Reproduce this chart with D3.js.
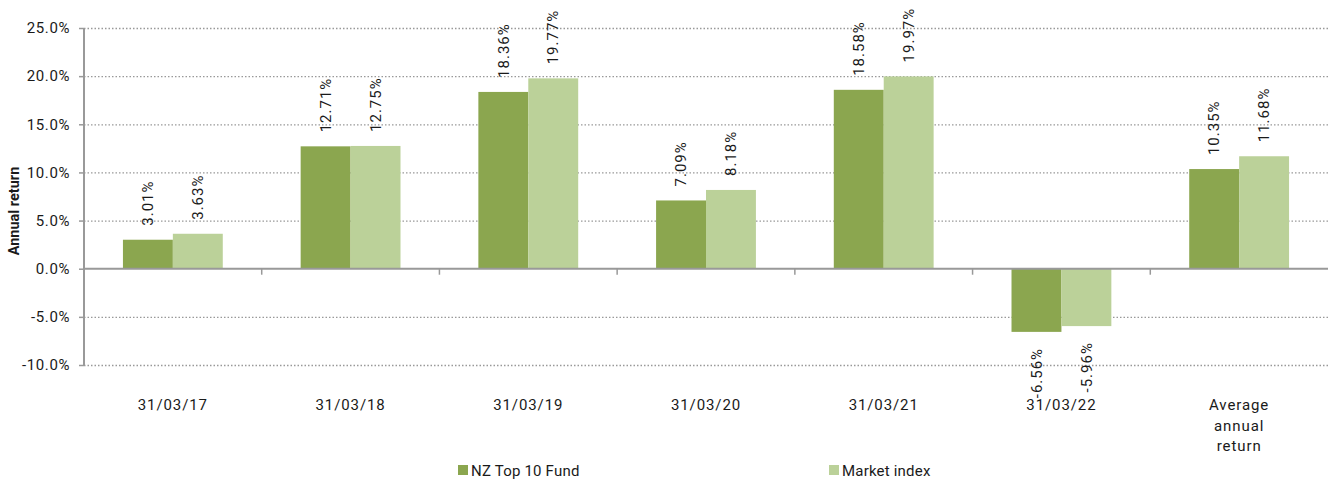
<!DOCTYPE html>
<html>
<head>
<meta charset="utf-8">
<script src="https://cdn.jsdelivr.net/npm/d3@7"></script>
<style>
  body { margin: 0; background: #fff; }
  text { font-family: Roboto, "Noto Sans", sans-serif; fill: #1a1a1a; }
</style>
</head>
<body>
<div id="chart"></div>
<script>
// data
const categories = ['31/03/17', '31/03/18', '31/03/19', '31/03/20', '31/03/21', '31/03/22', 'Average annual return'];
const series = ['NZ Top 10 Fund', 'Market index'];
const fundValues = [3.01, 12.71, 18.36, 7.09, 18.58, -6.56, 10.35];
const indexValues = [3.63, 12.75, 19.77, 8.18, 19.97, -5.96, 11.68];
const yTicks = [-10, -5, 0, 5, 10, 15, 20, 25];
const colors = ['#8ba64f', '#bbd199'];

const width = 1328, height = 482;
const margin = {left: 84, right: 0, top: 28, bottom: 117};

const svg = d3.select('#chart').append('svg')
    .attr('width', width)
    .attr('height', height);

const x = d3.scaleBand()
    .domain(categories)
    .range([margin.left, width - margin.right]);
const x1 = d3.scaleBand()
    .domain(series)
    .range([0, x.bandwidth()])
    .paddingOuter(0.78)
    .paddingInner(0);
const y = d3.scaleLinear()
    .domain([-10, 25])
    .range([height - margin.bottom, margin.top]);

// gridlines
svg.append('g')
    .selectAll('line')
    .data(yTicks.filter(d => d !== 0))
    .enter()
    .append('line')
      .attr('x1', margin.left)
      .attr('x2', width - margin.right)
      .attr('y1', d => y(d) + 0.5)
      .attr('y2', d => y(d) + 0.5)
      .attr('stroke', '#999')
      .attr('stroke-width', 1.3)
      .attr('stroke-dasharray', '1.5,2');

// y axis
const yAxis = svg.append('g')
    .attr('transform', `translate(${margin.left},0)`)
    .call(d3.axisLeft(y).tickValues(yTicks).tickSize(5).tickFormat(d => d.toFixed(1) + '%'));
yAxis.select('.domain').attr('stroke', '#999').attr('stroke-width', 2).attr('d', `M0,${y(25)}V${y(-10)}`);
yAxis.selectAll('.tick line').attr('stroke', '#999').attr('stroke-width', 1.5);
yAxis.selectAll('.tick text')
    .attr('x', -14)
    .attr('font-size', 15)
    .attr('letter-spacing', 0.6)
    .attr('font-family', 'Roboto, sans-serif')
    .attr('fill', '#1a1a1a');

svg.append('text')
    .attr('transform', `translate(19,211) rotate(-90)`)
    .attr('text-anchor', 'middle')
    .attr('font-size', 14.5)
    .attr('font-weight', 'bold')
    .text('Annual return');

// bars
const rows = categories.map((c, i) => ({cat: c, vals: [fundValues[i], indexValues[i]]}));

const groups = svg.append('g')
    .selectAll('g')
    .data(rows)
    .enter()
    .append('g')
    .attr('transform', d => `translate(${x(d.cat)},0)`);

groups.each(function(row) {
    const g = d3.select(this);
    const items = row.vals.map((v, j) => ({s: series[j], v: v, j: j}));
    g.selectAll('rect')
      .data(items)
      .enter()
      .append('rect')
        .attr('x', d => x1(d.s))
        .attr('width', x1.bandwidth())
        .attr('y', d => y(Math.max(0, d.v)))
        .attr('height', d => Math.abs(y(d.v) - y(0)))
        .attr('fill', d => colors[d.j]);

    g.selectAll('text')
      .data(items)
      .enter()
      .append('text')
        .attr('transform', d => {
            const cx = x1(d.s) + x1.bandwidth() / 2;
            const cy = d.v >= 0 ? y(d.v) - 14 : y(d.v) + 16;
            return `translate(${cx},${cy}) rotate(-90)`;
        })
        .attr('text-anchor', d => d.v >= 0 ? 'start' : 'end')
        .attr('dy', '0.35em')
        .attr('font-size', 15)
        .attr('letter-spacing', 1)
        .text(d => d.v.toFixed(2) + '%');
});

// x axis at zero
const xAxisG = svg.append('g');
xAxisG.append('line')
    .attr('x1', margin.left)
    .attr('x2', width - margin.right)
    .attr('y1', y(0))
    .attr('y2', y(0))
    .attr('stroke', '#999')
    .attr('stroke-width', 2);
xAxisG.selectAll('.ctick')
    .data(categories.slice(1))
    .enter()
    .append('line')
      .attr('x1', d => x(d))
      .attr('x2', d => x(d))
      .attr('y1', y(0))
      .attr('y2', y(0) + 6)
      .attr('stroke', '#999')
      .attr('stroke-width', 1.5);

// category labels
const labelY = 410;
svg.append('g')
    .selectAll('text')
    .data(categories)
    .enter()
    .append('text')
      .attr('x', d => x(d) + x.bandwidth() / 2)
      .attr('y', labelY)
      .attr('text-anchor', 'middle')
      .attr('font-size', 15)
      .attr('letter-spacing', 0.9)
      .each(function(d) {
          const lines = d === 'Average annual return' ? ['Average', 'annual', 'return'] : [d];
          d3.select(this).selectAll('tspan')
            .data(lines)
            .enter()
            .append('tspan')
              .attr('x', x(d) + x.bandwidth() / 2)
              .attr('dy', (l, i) => i === 0 ? 0 : 20.5)
              .text(l => l);
      });

// legend
const legendX = [458, 829];
const legend = svg.append('g')
    .selectAll('g')
    .data(series)
    .enter()
    .append('g')
    .attr('transform', (d, i) => `translate(${legendX[i]},465)`);
legend.append('rect')
    .attr('width', 10)
    .attr('height', 10)
    .attr('fill', (d, i) => colors[i]);
legend.append('text')
    .attr('x', 13)
    .attr('y', 10.5)
    .attr('font-size', 15)
    .attr('letter-spacing', 0.2)
    .text(d => d);
</script>
</body>
</html>
